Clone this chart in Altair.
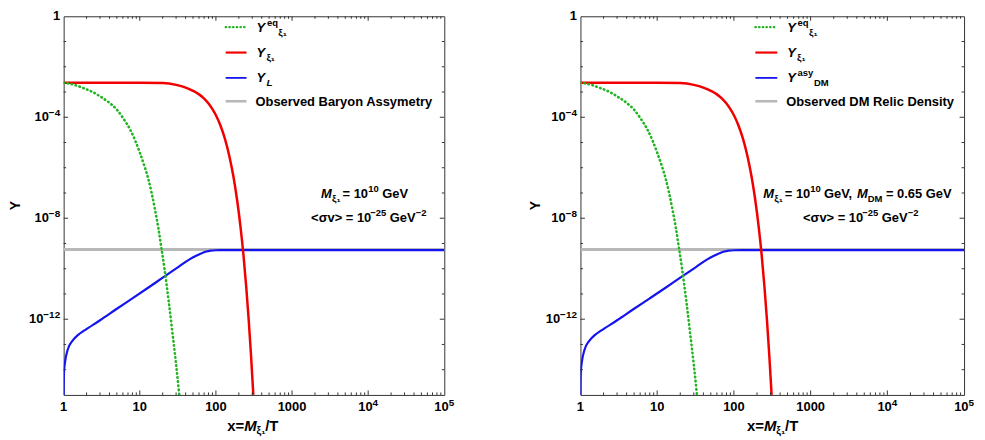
import altair as alt
import pandas as pd

FONT = "Liberation Sans"
H = 381
W_LEFT, W_RIGHT = 383, 386

# ---------------- data ----------------
# Y^eq_xi1 (green dotted)
x_eq = [1, 1.4, 1.85, 2.4, 3.04, 4, 5, 6, 7.45, 8.7, 10, 11.5, 12.9, 14.3,
        15.7, 17.5, 19.2, 21.1, 24, 27, 30, 33]
y_eq = [2.35e-3, 1.9e-3, 1.4e-3, 1.0e-3, 6.6e-4, 3.7e-4, 2.0e-4, 9.5e-5,
        3.3e-5, 1.2e-5, 4.0e-6, 1.17e-6, 3.7e-7, 1.0e-7, 2.5e-8, 4.2e-9,
        6.8e-10, 1.0e-10, 5.0e-12, 2.5e-13, 1.6e-14, 1e-15]
# Y_xi1 (red)
x_xi = [1, 10, 20, 30, 40, 50, 60, 70, 80, 90, 100, 115, 130, 150, 170, 190,
        210, 230, 250, 270, 290, 310]
y_xi = [2.35e-3, 2.34e-3, 2.26e-3, 1.92e-3, 1.50e-3, 1.11e-3, 8.06e-4,
        5.51e-4, 3.51e-4, 2.09e-4, 1.20e-4, 4.62e-5, 1.55e-5, 2.92e-6,
        4.37e-7, 5.14e-8, 4.80e-9, 3.57e-10, 1.96e-11, 8.8e-13, 3.25e-14,
        1e-15]
# Y_L / Y^asy_DM (blue)
x_L = [1.0, 1.003, 1.01, 1.04, 1.127, 1.31, 1.55, 1.85, 3.04, 5, 8, 13, 20,
       32, 45, 55, 65, 75, 85, 100, 130, 1e5]
y_L = [1e-15, 3e-15, 8e-15, 1.9e-14, 6.0e-14, 1.42e-13, 2.4e-13, 3.5e-13,
       9.3e-13, 2.6e-12, 6.7e-12, 1.8e-11, 4.4e-11, 1.16e-10, 2.34e-10,
       3.24e-10, 4.07e-10, 4.79e-10, 5.19e-10, 5.40e-10, 5.43e-10, 5.43e-10]
# observed value (gray)
x_obs = [1, 1e5]
y_obs = [5.8e-10, 5.8e-10]

# axis ticks and labels
x_plain_values = [1, 10, 100, 1000]
x_plain_texts = ["1", "10", "100", "1000"]
x_pow_values = [1e4, 1e5]
x_pow_exps = ["4", "5"]
y_plain_values = [1]
y_plain_texts = ["1"]
y_pow_values = [1e-12, 1e-8, 1e-4]
y_pow_exps = ["\u221212", "\u22128", "\u22124"]
x_major_ticks = [10, 100, 1000, 1e4]
x_minor_ticks = [m * 10 ** d for d in range(5) for m in range(2, 10)]
y_major_ticks = [1e-12, 1e-8, 1e-4]
y_minor_ticks = [10.0 ** -k for k in range(1, 15) if k % 4 != 0]

panel_texts = {
    "left": {"obs": "Observed Baryon Assymetry"},
    "right": {"obs": "Observed DM Relic Density"},
}

# ---------------- styling ----------------
RED = "#f20000"
BLUE = "#1414ee"
GREEN = "#1fb51f"
GRAY = "#b8b8b8"
TICK = "#333333"

xs = alt.Scale(type="log", domain=[1, 1e5], nice=False)
ys = alt.Scale(type="log", domain=[1e-15, 1], nice=False)

# approximate advance widths (Arial/Liberation Sans Bold, per 1 px of font)
ADV = {"\u2212": 0.584}


def wid(s, size):
    return sum(ADV.get(c, 0.556) for c in s) * size


def line_layer(xv, yv, color, width, dash=None):
    df = pd.DataFrame({"x": xv, "y": yv})
    kw = dict(color=color, strokeWidth=width, interpolate="monotone", clip=True)
    if dash is not None:
        kw["strokeDash"] = dash
        kw["strokeCap"] = "round"
    return alt.Chart(df).mark_line(**kw).encode(
        x=alt.X("x:Q", scale=xs, axis=None),
        y=alt.Y("y:Q", scale=ys, axis=None),
    )


def xticks(values, y0, y1):
    return alt.Chart(pd.DataFrame({"x": values})).mark_rule(
        color=TICK, strokeWidth=1).encode(
        x=alt.X("x:Q", scale=xs, axis=None), y=alt.value(y0), y2=alt.value(y1))


def yticks(values, x0, x1):
    return alt.Chart(pd.DataFrame({"y": values})).mark_rule(
        color=TICK, strokeWidth=1).encode(
        y=alt.Y("y:Q", scale=ys, axis=None), x=alt.value(x0), x2=alt.value(x1))


def tkw(size, italic=False, align="left", **extra):
    kw = dict(font=FONT, fontSize=size, fontWeight="bold", color="black",
              align=align, baseline="middle")
    if italic:
        kw["fontStyle"] = "italic"
    kw.update(extra)
    return kw


ONE = alt.Data(values=[{"a": 0}])


def txt(s, x, y, size=13, italic=False, **extra):
    return alt.Chart(ONE).mark_text(**tkw(size, italic, **extra)).encode(
        x=alt.value(x), y=alt.value(y), text=alt.value(s))


def legend_line(x0, x1, y, color, width, dash=None):
    kw = dict(color=color, strokeWidth=width)
    if dash is not None:
        kw["strokeDash"] = dash
        kw["strokeCap"] = "round"
    return alt.Chart(ONE).mark_rule(**kw).encode(
        x=alt.value(x0), x2=alt.value(x1), y=alt.value(y))


LBL, EXP, SUP = 13, 10, 4.5
XLY = H + 12.3     # x tick label centre
YLX = -3.5         # right end of y tick labels


def tick_labels():
    layers = [
        alt.Chart(pd.DataFrame({"x": x_plain_values, "t": x_plain_texts}))
        .mark_text(**tkw(LBL, align="center"))
        .encode(x=alt.X("x:Q", scale=xs, axis=None), y=alt.value(XLY),
                text="t:N"),
        alt.Chart(pd.DataFrame({"y": y_plain_values, "t": y_plain_texts}))
        .mark_text(**tkw(LBL, align="right"))
        .encode(y=alt.Y("y:Q", scale=ys, axis=None), x=alt.value(YLX),
                text="t:N"),
    ]
    for v, e in zip(x_pow_values, x_pow_exps):
        total = wid("10", LBL) + wid(e, EXP)
        split = -total / 2 + wid("10", LBL)
        layers.append(alt.Chart(ONE).mark_text(**tkw(LBL, align="right", dx=split))
                      .encode(x=alt.X(datum=v, scale=xs, axis=None),
                              y=alt.value(XLY), text=alt.value("10")))
        layers.append(alt.Chart(ONE).mark_text(**tkw(EXP, align="left", dx=split))
                      .encode(x=alt.X(datum=v, scale=xs, axis=None),
                              y=alt.value(XLY - SUP), text=alt.value(e)))
    for v, e in zip(y_pow_values, y_pow_exps):
        split = YLX - wid(e, EXP)
        layers.append(alt.Chart(ONE).mark_text(**tkw(LBL, align="right"))
                      .encode(y=alt.Y(datum=v, scale=ys, axis=None),
                              x=alt.value(split), text=alt.value("10")))
        layers.append(alt.Chart(ONE).mark_text(**tkw(EXP, align="left", dy=-SUP))
                      .encode(y=alt.Y(datum=v, scale=ys, axis=None),
                              x=alt.value(split), text=alt.value(e)))
    return layers


MAJ, MIN = 4.5, 2.5
DOT = [0.5, 3.6]


def panel(side):
    W = W_LEFT if side == "left" else W_RIGHT
    ox = -3 if side == "left" else 0      # hand-placed x offsets
    oy = -3                               # hand-placed y offsets (top area)
    layers = [
        line_layer(x_obs, y_obs, GRAY, 3),
        line_layer(x_L, y_L, BLUE, 2.2),
        line_layer(x_xi, y_xi, RED, 2.5),
        line_layer(x_eq, y_eq, GREEN, 2.6, dash=DOT),
        xticks(x_major_ticks, H, H - MAJ), xticks(x_minor_ticks, H, H - MIN),
        xticks(x_major_ticks, 0, MAJ), xticks(x_minor_ticks, 0, MIN),
        yticks(y_major_ticks, 0, MAJ), yticks(y_minor_ticks, 0, MIN),
        yticks(y_major_ticks, W, W - MAJ), yticks(y_minor_ticks, W, W - MIN),
    ]
    layers += tick_labels()
    # axis titles
    layers.append(txt("Y", -44 if side == "left" else -41, H / 2, 14,
                      angle=270, baseline="alphabetic", align="center"))
    T = H + 31.5
    layers += [
        txt("x=", 167.5 + ox, T, 15), txt("M", 184.6 + ox, T, 15, True),
        txt("\u03be\u2081", 197.1 + ox, T + 5, 10.5), txt("/T", 205.8 + ox, T, 15),
    ]
    # legend
    r1, r2, r3, r4 = 14.5 + oy, 40 + oy, 65.5 + oy, 89 + oy
    if side == "left":
        lx0, lx1, tx = 166 + ox, 187 + ox, 197 + ox
    else:
        lx0, lx1, tx = 176, 198, 208
    layers += [
        legend_line(lx0, lx1, r1 - 0.5, GREEN, 2.2, dash=[0.5, 3.2]),
        legend_line(lx0, lx1, r2 - 0.5, RED, 2.2),
        legend_line(lx0, lx1, r3 - 0.5, BLUE, 1.8),
        legend_line(lx0, lx1, r4 - 0.5, GRAY, 2.6),
        txt("Y", tx, r1, 13, True), txt("eq", tx + 10.5, r1 - 5, 9.5),
        txt("\u03be\u2081", tx + 22, r1 + 5, 10),
        txt("Y", tx, r2, 13, True), txt("\u03be\u2081", tx + 10, r2 + 5, 10),
        txt("Y", tx, r3, 13, True),
        txt(panel_texts[side]["obs"], tx - 1, r4, 13),
    ]
    if side == "left":
        layers.append(txt("L", tx + 10, r3 + 5, 10, True))
    else:
        layers += [txt("asy", tx + 10.5, r3 - 5, 9.5),
                   txt("DM", tx + 27, r3 + 5, 9.5)]
    # annotations
    A1, A2 = 181.5 + oy, 205.5 + oy
    if side == "left":
        a = ox
        layers += [
            txt("M", 262 + a, A1, 13, True), txt("\u03be\u2081", 273 + a, A1 + 5, 10),
            txt("= 10", 283.6 + a, A1), txt("10", 309.5 + a, A1 - 5, 9.5),
            txt("GeV", 323.6 + a, A1),
            txt("<\u03c3v> = 10", 252 + a, A2),
            txt("\u221225", 311.5 + a, A2 - 5, 9.5),
            txt("GeV", 331.2 + a, A2), txt("\u22122", 357.2 + a, A2 - 5, 9.5),
        ]
    else:
        layers += [
            txt("M", 184, A1, 13, True), txt("\u03be\u2081", 195, A1 + 5, 10),
            txt("= 10", 205.6, A1), txt("10", 231.3, A1 - 5, 9.5),
            txt("GeV,", 245, A1),
            txt("M", 278.2, A1, 13, True), txt("DM", 289, A1 + 5, 9.5),
            txt("= 0.65 GeV", 307.4, A1),
            txt("<\u03c3v> = 10", 224, A2), txt("\u221225", 283.5, A2 - 5, 9.5),
            txt("GeV", 303.2, A2), txt("\u22122", 329.2, A2 - 5, 9.5),
        ]
    return alt.layer(*layers).properties(width=W, height=H)


chart = alt.hconcat(panel("left"), panel("right"), spacing=137, bounds="flush").properties(
    padding={"left": 0, "top": 0, "right": 2, "bottom": 0},
    background="white",
).configure_view(stroke=TICK, strokeWidth=1)

chart.save("out.html", embed_options={"renderer": "svg", "actions": False})
